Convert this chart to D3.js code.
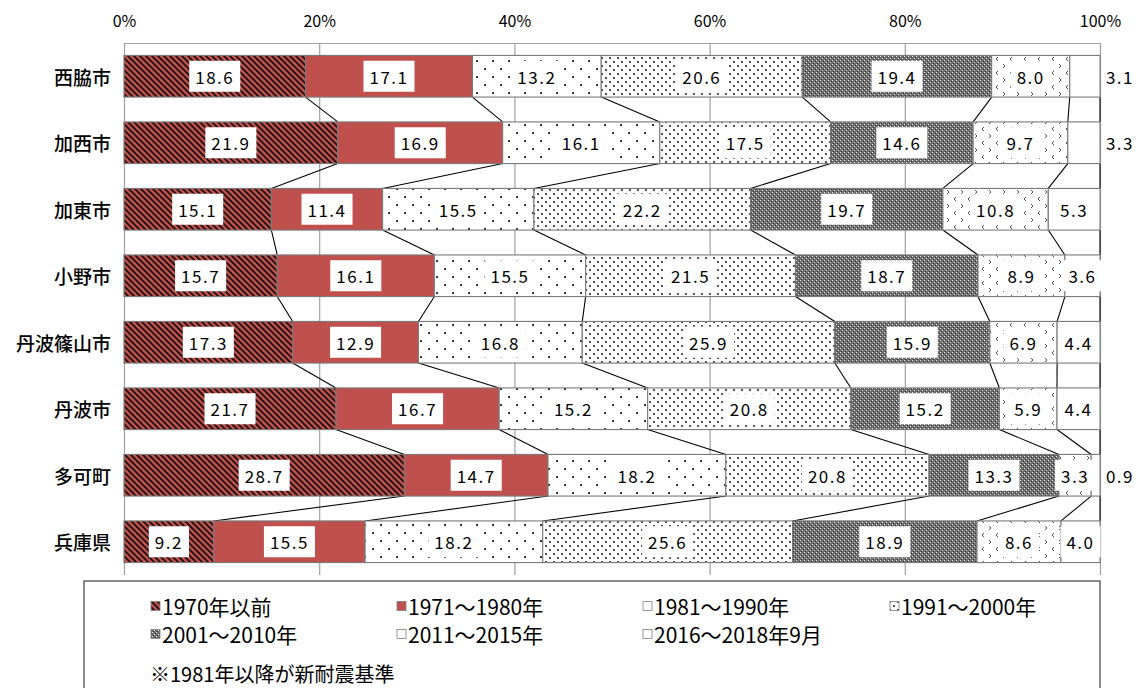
<!DOCTYPE html>
<html>
<head>
<meta charset="utf-8">
<script src="https://cdn.jsdelivr.net/npm/d3@7"></script>
<style>
  body { margin: 0; background: #fff; }
  text { font-family: "Noto Sans CJK JP", "Noto Sans", sans-serif; fill: #000; }
</style>
</head>
<body>
<svg id="chart" width="1145" height="688"></svg>
<script>
// Construction-period shares of housing stock (%), by municipality
const categories = ["西脇市", "加西市", "加東市", "小野市", "丹波篠山市", "丹波市", "多可町", "兵庫県"];
const periods = ["1970年以前", "1971～1980年", "1981～1990年", "1991～2000年", "2001～2010年", "2011～2015年", "2016～2018年9月"];
const v1970 = [18.6, 21.9, 15.1, 15.7, 17.3, 21.7, 28.7, 9.2];
const v1971 = [17.1, 16.9, 11.4, 16.1, 12.9, 16.7, 14.7, 15.5];
const v1981 = [13.2, 16.1, 15.5, 15.5, 16.8, 15.2, 18.2, 18.2];
const v1991 = [20.6, 17.5, 22.2, 21.5, 25.9, 20.8, 20.8, 25.6];
const v2001 = [19.4, 14.6, 19.7, 18.7, 15.9, 15.2, 13.3, 18.9];
const v2011 = [8.0, 9.7, 10.8, 8.9, 6.9, 5.9, 3.3, 8.6];
const v2016 = [3.1, 3.3, 5.3, 3.6, 4.4, 4.4, 0.9, 4.0];
const tickValues = [0, 0.2, 0.4, 0.6, 0.8, 1];
const noteText = "※1981年以降が新耐震基準";

const seriesValues = [v1970, v1971, v1981, v1991, v2001, v2011, v2016];
const rows = categories.map((name, i) => {
  const r = { name };
  periods.forEach((p, k) => { r[p] = seriesValues[k][i]; });
  return r;
});

const svg = d3.select("#chart");
const plot = { left: 124, right: 1100, top: 43, bottom: 575 };

const x = d3.scaleLinear().domain([0, 1]).range([plot.left, plot.right]);
const y = d3.scaleBand().domain(categories)
  .range([plot.top, plot.bottom])
  .paddingInner(0.374).paddingOuter(0.187);

// ---- fill patterns ----
const defs = svg.append("defs");
const RED = "#C0504D";

const pHatch = defs.append("pattern").attr("id", "pat0")
  .attr("patternUnits", "userSpaceOnUse").attr("width", 6).attr("height", 6);
pHatch.append("rect").attr("width", 6).attr("height", 6).attr("fill", RED);
pHatch.append("path").attr("d", "M-1,-1 L7,7 M-4,2 L1,7 M5,-1 L10,4")
  .attr("stroke", "#1c1111").attr("stroke-width", 1.8);

const pSparse = defs.append("pattern").attr("id", "pat2")
  .attr("patternUnits", "userSpaceOnUse").attr("width", 16).attr("height", 16);
pSparse.append("rect").attr("width", 16).attr("height", 16).attr("fill", "#fff");
[[4, 4], [12, 12]].forEach(([a, b]) =>
  pSparse.append("rect").attr("x", a).attr("y", b).attr("width", 2).attr("height", 2).attr("fill", "#333"));

const pDense = defs.append("pattern").attr("id", "pat3")
  .attr("patternUnits", "userSpaceOnUse").attr("width", 8).attr("height", 8);
pDense.append("rect").attr("width", 8).attr("height", 8).attr("fill", "#fff");
[[1, 1], [5, 5]].forEach(([a, b]) =>
  pDense.append("rect").attr("x", a).attr("y", b).attr("width", 2).attr("height", 2).attr("fill", "#555"));

const pChecker = defs.append("pattern").attr("id", "pat4")
  .attr("patternUnits", "userSpaceOnUse").attr("width", 4).attr("height", 4);
pChecker.append("rect").attr("width", 4).attr("height", 4).attr("fill", "#6e6e6e");
[[0, 0], [2, 2]].forEach(([a, b]) =>
  pChecker.append("rect").attr("x", a).attr("y", b).attr("width", 1).attr("height", 1).attr("fill", "#e8e8e8"));
[[1, 3], [3, 1]].forEach(([a, b]) =>
  pChecker.append("rect").attr("x", a).attr("y", b).attr("width", 1).attr("height", 1).attr("fill", "#3a3a3a"));

const pChevron = defs.append("pattern").attr("id", "pat5")
  .attr("patternUnits", "userSpaceOnUse").attr("width", 14).attr("height", 14);
pChevron.append("rect").attr("width", 14).attr("height", 14).attr("fill", "#fff");
pChevron.append("path").attr("d", "M4,1 L2,3 L4,5 M9,8 L11,10 L9,12")
  .attr("stroke", "#555").attr("stroke-width", 1).attr("fill", "none");

const fills = ["url(#pat0)", RED, "url(#pat2)", "url(#pat3)", "url(#pat4)", "url(#pat5)", "#fff"];

// ---- top axis with vertical gridlines ----
const axis = d3.axisTop(x)
  .tickValues(tickValues)
  .tickFormat(d3.format(".0%"))
  .tickSizeInner(-(plot.bottom - plot.top))
  .tickSizeOuter(0)
  .tickPadding(16);

const gAxis = svg.append("g").attr("transform", `translate(0,${plot.top})`).call(axis);
gAxis.select(".domain").attr("stroke", "#a0a0a0").attr("stroke-width", 1.2);
gAxis.selectAll(".tick line").attr("stroke", "#a0a0a0").attr("stroke-width", 1.2);
gAxis.selectAll(".tick text")
  .style("font-family", '"Noto Sans CJK JP", sans-serif')
  .attr("font-size", 16).attr("fill", "#000");

// ---- stacked data ----
const stacked = d3.stack().keys(periods).offset(d3.stackOffsetExpand)(rows);

// connectors between successive bars at each cumulative boundary
const connectors = svg.append("g");
stacked.forEach(layer => {
  for (let i = 0; i < categories.length - 1; i++) {
    const a = layer[i], b = layer[i + 1];
    connectors.append("line")
      .attr("x1", x(a[1])).attr("y1", y(categories[i]) + y.bandwidth())
      .attr("x2", x(b[1])).attr("y2", y(categories[i + 1]))
      .attr("stroke", "#000").attr("stroke-width", 1.1);
  }
});

// bars
const gBars = svg.append("g");
stacked.forEach((layer, k) => {
  gBars.selectAll(null).data(layer).join("rect")
    .attr("x", d => x(d[0]))
    .attr("y", (d, i) => y(categories[i]))
    .attr("width", d => x(d[1]) - x(d[0]))
    .attr("height", y.bandwidth())
    .attr("fill", fills[k])
    .attr("stroke", "#7a7a7a")
    .attr("stroke-width", 1.1);
});

// value labels (tiny last segments get their label to the right of the bar)
const gLabels = svg.append("g");
stacked.forEach((layer, k) => {
  layer.forEach((d, i) => {
    const val = seriesValues[k][i];
    const cy = y(categories[i]) + y.bandwidth() / 2;
    const outside = (k === periods.length - 1) && val < 3.5;
    const cx = outside ? x(1) + 20 : (x(d[0]) + x(d[1])) / 2;
    const g = gLabels.append("g");
    const t = g.append("text")
      .attr("x", cx).attr("y", cy)
      .attr("text-anchor", "middle")
      .attr("dominant-baseline", "central")
      .attr("font-size", 17)
      .attr("letter-spacing", 1.5)
      .text(d3.format(".1f")(val));
    if (!outside) {
      const w = t.node().getComputedTextLength() + 12;
      g.insert("rect", "text")
        .attr("x", cx - w / 2).attr("y", cy - 15.5)
        .attr("width", w).attr("height", 31)
        .attr("fill", "#fff");
    }
  });
});

// category labels
svg.append("g").selectAll("text").data(categories).join("text")
  .attr("x", 111)
  .attr("y", d => y(d) + y.bandwidth() / 2)
  .attr("text-anchor", "end")
  .attr("dominant-baseline", "central")
  .attr("font-size", 19)
  .attr("font-weight", 500)
  .text(d => d);

// ---- legend ----
const gLeg = svg.append("g");
gLeg.append("rect")
  .attr("x", 84).attr("y", 581).attr("width", 1016).attr("height", 130)
  .attr("fill", "#fff").attr("stroke", "#404040").attr("stroke-width", 1.2);

const colX = [151, 397, 643, 890];
const rowY = [606, 634];
periods.forEach((p, k) => {
  const cx = colX[k % 4], cy = rowY[Math.floor(k / 4)];
  gLeg.append("rect")
    .attr("x", cx).attr("y", cy - 4.5).attr("width", 9).attr("height", 9)
    .attr("fill", fills[k]).attr("stroke", "#808080").attr("stroke-width", 0.8);
  gLeg.append("text")
    .attr("x", cx + 11).attr("y", cy)
    .attr("dominant-baseline", "central")
    .attr("font-size", 21)
    .text(p);
});
gLeg.append("text")
  .attr("x", 150).attr("y", 673)
  .attr("dominant-baseline", "central")
  .attr("font-size", 20)
  .text(noteText);
</script>
</body>
</html>
